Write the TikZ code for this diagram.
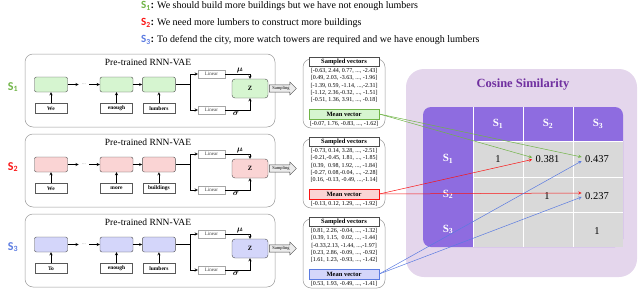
\documentclass[tikz,border=0pt]{standalone}
\usepackage{amsmath}
\usepackage{fontspec}
\setmainfont{Liberation Serif}
\newfontfamily\calib{Carlito}
\usepackage{tikz}
\usetikzlibrary{shapes,arrows,positioning,backgrounds}
\definecolor{gfill}{RGB}{214,245,208}
\definecolor{rfill}{RGB}{250,212,212}
\definecolor{bfill}{RGB}{212,214,250}
\definecolor{gtxt}{RGB}{112,180,71}
\definecolor{rtxt}{RGB}{250,20,20}
\definecolor{btxt}{RGB}{91,123,225}
\definecolor{cosbg}{RGB}{228,214,236}
\definecolor{cospurple}{RGB}{112,48,160}
\definecolor{tabpurple}{RGB}{142,108,224}
\definecolor{tabgray}{RGB}{217,217,217}

\begin{document}
\begin{tikzpicture}[x=1pt, y=-1pt,
    panel/.style={draw=gray!80, rounded corners=8pt, line width=0.5pt},
    cell/.style={draw=gray!60!black, rounded corners=2pt, minimum width=33pt, minimum height=15pt, inner sep=0pt},
    word/.style={draw=gray!70!black, minimum width=32pt, minimum height=10pt, inner sep=0pt, font=\fontsize{5.5}{6}\selectfont\bfseries},
    lin/.style={draw=gray!70, fill=white, minimum width=27pt, minimum height=8pt, inner sep=0pt, font=\fontsize{5}{6}\selectfont, text=gray!50!black},
    zbox/.style={draw=gray!60!black, rounded corners=3pt, minimum width=36pt, minimum height=19pt, font=\fontsize{6.5}{7}\selectfont\bfseries},
    samp/.style={single arrow, draw=gray!60!black, fill=gray!15, minimum height=27pt, minimum width=13pt, single arrow head extend=2.5pt, inner sep=0.8pt, font=\fontsize{4.5}{5}\selectfont},
    hdr/.style={draw=gray!60!black, fill=white, minimum width=70pt, minimum height=9pt, inner sep=0pt, font=\fontsize{6.5}{7}\selectfont\bfseries},
    mean/.style={minimum width=70pt, minimum height=10pt, inner sep=0pt, font=\fontsize{6.5}{7}\selectfont\bfseries},
    vecs/.style={align=center, inner sep=0pt, font=\fontsize{6}{7.2}\selectfont},
    lbl/.style={font=\calib\bfseries\fontsize{12}{14}\selectfont},
    sent/.style={anchor=west, inner sep=0pt, font=\fontsize{10}{12}\selectfont},
    thead/.style={text=white, font=\fontsize{11}{13}\selectfont\bfseries},
    val/.style={font=\fontsize{10.5}{12}\selectfont},
    arrow/.style={->, >=stealth, line width=0.4pt},
    link/.style={->, >=stealth, line width=0.5pt}
]
\useasboundingbox (0,0) rectangle (640,289);

% sentences
\node[sent] (sen1) at (141,6) {{\calib\bfseries\fontsize{11}{12}\selectfont\color{gtxt}S\textsubscript{1}\color{black}:} We should build more buildings but we have not enough lumbers};
\node[sent] (sen2) at (141,23) {{\calib\bfseries\fontsize{11}{12}\selectfont\color{rtxt}S\textsubscript{2}\color{black}:} We need more lumbers to construct more buildings};
\node[sent] (sen3) at (141,40) {{\calib\bfseries\fontsize{11}{12}\selectfont\color{btxt}S\textsubscript{3}\color{black}:} To defend the city, more watch towers are required and we have enough lumbers};

% encoders
\foreach \k/\dy/\fc/\tc/\wa/\wb/\wc in {1/0/gfill/gtxt/We/enough/lumbers, 2/80/rfill/rtxt/We/more/buildings, 3/160/bfill/btxt/To/enough/lumbers} {
  \draw[panel] (25,54+\dy) rectangle (275,127+\dy);
  \node[font=\fontsize{9.5}{11}\selectfont] (ttl\k) at (148,62+\dy) {Pre-trained RNN-VAE};
  \node[lbl, text=\tc] (s\k) at (13,87+\dy) {S\textsubscript{\k}};
  \node[cell, fill=\fc] (cella\k) at (51,84.5+\dy) {};
  \node[text=gray, font=\fontsize{5}{6}\selectfont] (dots\k) at (84,84.5+\dy) {...};
  \node[cell, fill=\fc] (cellb\k) at (116.5,84.5+\dy) {};
  \node[cell, fill=\fc, right=9pt of cellb\k] (cellc\k) {};
  \node[word, below=11pt of cella\k] (wa\k) {\wa};
  \node[word, below=11pt of cellb\k] (wb\k) {\wb};
  \node[word, below=11pt of cellc\k] (wc\k) {\wc};
  \node[lin] (lina\k) at (211.5,74+\dy) {Linear};
  \node[lin] (linb\k) at (211.5,110+\dy) {Linear};
  \node[zbox, fill=\fc] (z\k) at (250,88.5+\dy) {Z};
  \node[samp, right=1pt of z\k] (sa\k) {Sampling};
  \node[font=\fontsize{8}{9}\selectfont] (mu\k) at (240,70+\dy) {$\boldsymbol{\mu}$};
  \node[font=\fontsize{8}{9}\selectfont] (sg\k) at (236,114+\dy) {$\boldsymbol{\sigma}$};
  \coordinate (br\k) at (190,84.5+\dy);
  \draw[arrow] (wa\k) -- (cella\k);
  \draw[arrow] (wb\k) -- (cellb\k);
  \draw[arrow] (wc\k) -- (cellc\k);
  \draw[arrow] (cella\k) -- (dots\k);
  \draw[arrow] (dots\k) -- (cellb\k);
  \draw[arrow] (cellb\k) -- (cellc\k);
  \draw[line width=0.4pt] (cellc\k) -- (br\k);
  \draw[arrow] (br\k) |- (lina\k);
  \draw[arrow] (br\k) |- (linb\k);
  \draw[arrow] (lina\k) -| (z\k);
  \draw[arrow] (linb\k) -| (z\k);
  % sampled vectors
  \draw[panel] (303,59+\dy) rectangle (385,128+\dy);
  \node[hdr] (sv\k) at (344,61.5+\dy) {Sampled vectors};
  \node[mean, fill=\fc, draw=\tc] (mv\k) at (344,114+\dy) {Mean vector};
}

\node[vecs] (vl1) at (344,85.4) {[-0.63, 2.44, 0.77, ..., -2.43]\\{}[0.49, 2.03, -3.63, ..., -1.96]\\{}[-1.39, 0.59, -1.14, ...,-2.31]\\{}[-1.12, 2.36,-0.32, ..., -1.51]\\{}[-0.51, 1.36, 3.91, ..., -0.18]};
\node[vecs] (mval1) at (344,124) {[-0.07, 1.76, -0.83, ..., -1.62]};
\node[vecs] (vl2) at (344,165.4) {[-0.73, 0.14, 3.28, ..., -2.51]\\{}[-0.21,-0.45, 1.81, ..., -1.85]\\{}[0.39,\ \ 0.98, 1.92, ..., -1.84]\\{}[-0.27, 0.08,-0.04, ..., -2.28]\\{}[0.16, -0.13, -0.49, ...,-1.14]};
\node[vecs] (mval2) at (344,204) {[-0.13, 0.12, 1.29, ..., -1.92]};
\node[vecs] (vl3) at (344,245.4) {[0.81, 2.26, -0.04, ..., -1.32]\\{}[0.39, 1.15,\ \ 0.02, ..., -1.44]\\{}[-0.33,2.13, -1.44, ...,-1.97]\\{}[0.23, 2.86, -0.09, ..., -0.92]\\{}[1.61, 1.23, -0.93, ..., -1.42]};
\node[vecs] (mval3) at (344,284) {[0.53, 1.93, -0.49, ..., -1.41]};

% cosine similarity
\fill[cosbg, rounded corners=18pt] (406,69) rectangle (637,277);
\node[text=cospurple, font=\fontsize{12.5}{14}\selectfont\bfseries] (cos) at (523,85) {Cosine Similarity};
\fill[tabpurple, rounded corners=8pt] (423,107) rectangle (623,247);
\fill[tabgray] (473,141) rectangle (623,247);
\draw[white, line width=0.8pt] (473,107) -- (473,247) (523,107) -- (523,247) (573,107) -- (573,247)
  (473,141) -- (623,141) (473,177) -- (623,177) (473,212) -- (623,212);
\node[thead] (h1) at (498,124) {S\textsubscript{1}};
\node[thead] (h2) at (548,124) {S\textsubscript{2}};
\node[thead] (h3) at (598,124) {S\textsubscript{3}};
\node[thead] (r1) at (448,159) {S\textsubscript{1}};
\node[thead] (r2) at (448,194.5) {S\textsubscript{2}};
\node[thead] (r3) at (448,229.5) {S\textsubscript{3}};
\node[val] (v11) at (498,159) {1};
\node[val] (v12) at (547.5,159) {0.381};
\node[val] (v13) at (597,159) {0.437};
\node[val] (v22) at (547,196) {1};
\node[val] (v23) at (597,196) {0.237};
\node[val] (v33) at (597,231) {1};

\draw[link, gtxt] (mv1.east) -- ([yshift=1.5pt]v12.west);
\draw[link, gtxt] (mv1.east) -- ([yshift=2pt]v13.west);
\draw[link, rtxt] (mv2.east) -- ([yshift=-0.5pt]v12.west);
\draw[link, rtxt] (mv2.east) -- ([yshift=3pt]v23.west);
\draw[link, btxt] (mv3.east) -- ([yshift=-2pt]v13.west);
\draw[link, btxt] (mv3.east) -- ([yshift=-1pt]v23.west);

\end{tikzpicture}
\end{document}
